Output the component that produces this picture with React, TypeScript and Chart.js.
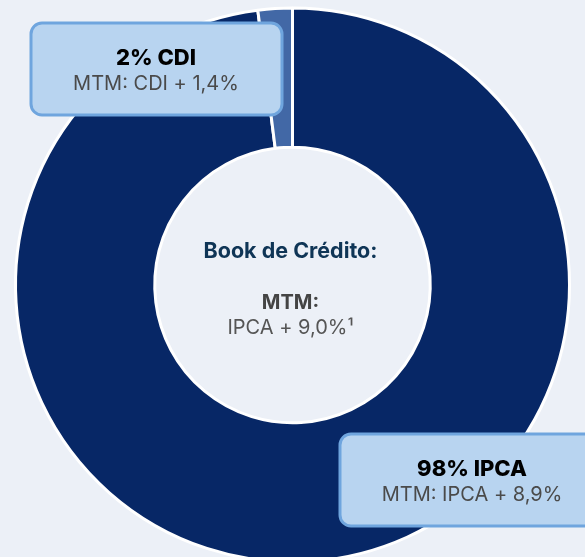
import React, { useEffect, useRef } from "react";
import { Chart, registerables } from "chart.js";

Chart.register(...registerables);

const categories = ["IPCA", "CDI"];
const shares = [98, 2];
const spreads = ["IPCA + 8,9%", "CDI + 1,4%"];
const centerTitle = "Book de Crédito:";
const centerSubtitle = "MTM:";
const centerValue = "IPCA + 9,0%¹";
const sliceColors = ["#072766", "#4268a6"];

const FONT = "Inter, 'Open Sans', sans-serif";
const BG = "#ecf0f7";

function roundRect(ctx: CanvasRenderingContext2D, x: number, y: number, w: number, h: number, r: number) {
  ctx.beginPath();
  ctx.moveTo(x + r, y);
  ctx.lineTo(x + w - r, y);
  ctx.arcTo(x + w, y, x + w, y + r, r);
  ctx.lineTo(x + w, y + h - r);
  ctx.arcTo(x + w, y + h, x + w - r, y + h, r);
  ctx.lineTo(x + r, y + h);
  ctx.arcTo(x, y + h, x, y + h - r, r);
  ctx.lineTo(x, y + r);
  ctx.arcTo(x, y, x + r, y, r);
  ctx.closePath();
}

const labelBoxes = [
  { idx: 1, x: 31, y: 23, w: 251, h: 92, cx: 156 },
  { idx: 0, x: 340, y: 434, w: 270, h: 92, cx: 472 },
];

const overlayPlugin = {
  id: "overlay",
  afterDraw(chart: any) {
    const ctx: any = chart.ctx;
    const meta = chart.getDatasetMeta(0);
    const arc = meta.data[0];
    const cx = arc.x - 2;
    const cy = arc.y;
    ctx.save();
    ctx.textAlign = "center";
    ctx.textBaseline = "middle";
    ctx.fillStyle = "#0f3556";
    ctx.font = `700 21.5px ${FONT}`;
    ctx.fillText(centerTitle, cx, cy - 33);
    ctx.fillStyle = "#444444";
    ctx.font = `700 20px ${FONT}`;
    ctx.fillText(centerSubtitle, cx, cy + 18);
    ctx.fillStyle = "#555555";
    ctx.font = `400 20px ${FONT}`;
    ctx.fillText(centerValue, cx, cy + 43);

    for (const b of labelBoxes) {
      roundRect(ctx, b.x, b.y, b.w, b.h, 11);
      ctx.fillStyle = "#b8d4f0";
      ctx.fill();
      ctx.lineWidth = 3;
      ctx.strokeStyle = "#6fa5de";
      ctx.stroke();
      ctx.fillStyle = "#000000";
      ctx.font = `800 22px ${FONT}`;
      ctx.fillText(`${shares[b.idx]}% ${categories[b.idx]}`, b.cx, b.y + 35);
      ctx.fillStyle = "#4a4a4a";
      ctx.font = `400 20px ${FONT}`;
      ctx.fillText(`MTM: ${spreads[b.idx]}`, b.cx, b.y + 61);
    }
    ctx.restore();
  },
};

export default function App() {
  const ref = useRef<HTMLCanvasElement | null>(null);
  useEffect(() => {
    document.body.style.margin = "0";
    document.body.style.background = BG;
    const chart = new Chart(ref.current as HTMLCanvasElement, {
      type: "doughnut",
      data: {
        labels: categories,
        datasets: [
          {
            data: shares,
            backgroundColor: sliceColors,
            borderColor: "#ffffff",
            borderWidth: 3,
          },
        ],
      },
      options: {
        responsive: false,
        animation: false,
        radius: 277,
        cutout: 141,
        layout: { padding: 0 },
        plugins: {
          legend: { display: false },
          tooltip: { enabled: false },
        },
      },
      plugins: [overlayPlugin],
    });
    return () => chart.destroy();
  }, []);
  return (
    <div style={{ position: "fixed", left: 0, top: 0, width: 585, height: 557, overflow: "hidden", background: BG }}>
      <canvas ref={ref} width={585} height={570} style={{ display: "block" }} />
    </div>
  );
}
